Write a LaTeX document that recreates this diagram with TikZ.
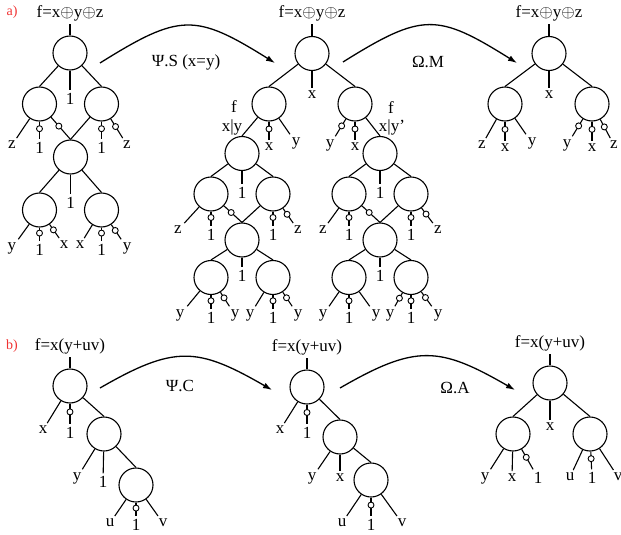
\documentclass[tikz,border=0pt]{standalone}
\usepackage{fontspec}
\setmainfont{Liberation Serif}
\usetikzlibrary{arrows.meta}
\definecolor{partred}{RGB}{240,50,50}

\tikzset{
  gate/.style={circle,draw,line width=1.1pt,minimum size=34pt,inner sep=0pt},
  leaf/.style={inner sep=2.8pt},
  neg/.style={circle,draw,fill=white,line width=.9pt,minimum size=6pt,inner sep=0pt,pos=.4},
  wire/.style={line width=1.1pt},
  trans/.style={line width=1.3pt,-{Latex[length=9pt,width=6pt]}},
  part/.style={text=partred,font=\fontsize{14}{16}\selectfont},
}

\begin{document}
\begin{tikzpicture}[x=1pt,y=-1pt,font=\fontsize{17}{20}\selectfont]
\useasboundingbox (0,0) rectangle (621,535);

\node[part] (pa) at (12,12) {a)};
\node (a1f) at (70,13) {f=x$\oplus$y$\oplus$z};
\node[gate] (a1) at (70,53) {};
\node[gate] (a1l) at (39.5,104) {};
\node[gate] (a1r) at (101.5,104) {};
\node[gate] (a1m) at (70.5,157) {};
\node[gate] (a1ml) at (39.5,210) {};
\node[gate] (a1mr) at (101.5,210) {};
\node[leaf] (a1M) at (70,99) {1};
\node[leaf] (a1lL) at (12,145) {z};
\node[leaf] (a1lM) at (39.5,148) {1};
\node[leaf] (a1rM) at (101.5,148) {1};
\node[leaf] (a1rR) at (127,145) {z};
\node[leaf] (a1mM) at (70.5,203) {1};
\node[leaf] (a1mlL) at (12,248) {y};
\node[leaf] (a1mlM) at (39.5,250) {1};
\node[leaf] (a1mlR) at (64,245) {x};
\node[leaf] (a1mrL) at (80,245) {x};
\node[leaf] (a1mrM) at (101.5,250) {1};
\node[leaf] (a1mrR) at (127,248) {y};
\draw[wire] (a1f) -- (a1);
\draw[wire] (a1) -- (a1l.north);
\draw[wire] (a1) -- (a1M);
\draw[wire] (a1) -- (a1r.north);
\draw[wire] (a1l) -- (a1lL);
\draw[wire] (a1l) -- node[neg]{} (a1lM);
\draw[wire] (a1l) -- node[neg]{} (a1m.north);
\draw[wire] (a1r) -- (a1m.north);
\draw[wire] (a1r) -- node[neg]{} (a1rM);
\draw[wire] (a1r) -- node[neg]{} (a1rR);
\draw[wire] (a1m) -- (a1ml.north);
\draw[wire] (a1m) -- (a1mM);
\draw[wire] (a1m) -- (a1mr.north);
\draw[wire] (a1ml) -- (a1mlL);
\draw[wire] (a1ml) -- node[neg]{} (a1mlM);
\draw[wire] (a1ml) -- node[neg]{} (a1mlR);
\draw[wire] (a1mr) -- (a1mrL);
\draw[wire] (a1mr) -- node[neg]{} (a1mrM);
\draw[wire] (a1mr) -- node[neg]{} (a1mrR);

\coordinate (t1s) at (100,63);
\coordinate (t1e) at (275,63);
\draw[trans] (t1s) to[out=32,in=148,looseness=1.38] (t1e);
\node (t1) at (186,62) {Ψ.S (x=y)};

\node (a2f) at (312,13) {f=x$\oplus$y$\oplus$z};
\node[gate] (a2) at (312,53.5) {};
\node[gate] (a2l) at (269,104) {};
\node[gate] (a2r) at (355,104) {};
\node[leaf] (a2M) at (312,95) {x};
\node[leaf] (a2lM) at (269,147) {x};
\node[leaf] (a2lR) at (296,143) {y};
\node[leaf] (a2rL) at (330,145) {y};
\node[leaf] (a2rM) at (355,147) {x};
\node[leaf] (s1f) at (234,107) {f};
\node[leaf] (s1c) at (232,127) {x|y};
\node[leaf] (s2f) at (391,108) {f};
\node[leaf] (s2c) at (392,127) {x|y'};
\draw[wire] (a2f) -- (a2);
\draw[wire] (a2) -- (a2l.north);
\draw[wire] (a2) -- (a2M);
\draw[wire] (a2) -- (a2r.north);
\draw[wire] (a2l) -- node[neg]{} (a2lM);
\draw[wire] (a2l) -- (a2lR);
\draw[wire] (a2r) -- node[neg]{} (a2rL);
\draw[wire] (a2r) -- node[neg]{} (a2rM);

\node[gate] (s1) at (242,153.5) {};
\node[gate] (s1l) at (211,194) {};
\node[gate] (s1r) at (273,194) {};
\node[gate] (s1m) at (242,240) {};
\node[gate] (s1ml) at (211,277.5) {};
\node[gate] (s1mr) at (273,277.5) {};
\node[leaf] (s1M) at (242,193) {1};
\node[leaf] (s1lL) at (178,230) {z};
\node[leaf] (s1lM) at (211,235) {1};
\node[leaf] (s1rM) at (273,235) {1};
\node[leaf] (s1rR) at (298,230) {z};
\node[leaf] (s1mM) at (242,276) {1};
\node[leaf] (s1mlL) at (180,315) {y};
\node[leaf] (s1mlM) at (211,318) {1};
\node[leaf] (s1mlR) at (235,315) {y};
\node[leaf] (s1mrL) at (250,315) {y};
\node[leaf] (s1mrM) at (273,318) {1};
\node[leaf] (s1mrR) at (298,315) {y};
\draw[wire] (a2l) -- (s1.north);
\draw[wire] (s1) -- (s1l.north);
\draw[wire] (s1) -- (s1M);
\draw[wire] (s1) -- (s1r.north);
\draw[wire] (s1l) -- (s1lL);
\draw[wire] (s1l) -- node[neg]{} (s1lM);
\draw[wire] (s1l) -- node[neg]{} (s1m.north);
\draw[wire] (s1r) -- (s1m.north);
\draw[wire] (s1r) -- node[neg]{} (s1rM);
\draw[wire] (s1r) -- node[neg]{} (s1rR);
\draw[wire] (s1m) -- (s1ml.north);
\draw[wire] (s1m) -- (s1mM);
\draw[wire] (s1m) -- (s1mr.north);
\draw[wire] (s1ml) -- (s1mlL);
\draw[wire] (s1ml) -- node[neg]{} (s1mlM);
\draw[wire] (s1ml) -- node[neg]{} (s1mlR);
\draw[wire] (s1mr) -- (s1mrL);
\draw[wire] (s1mr) -- node[neg]{} (s1mrM);
\draw[wire] (s1mr) -- node[neg]{} (s1mrR);

\node[gate] (s2) at (380,153.5) {};
\node[gate] (s2l) at (349,194) {};
\node[gate] (s2r) at (411,194) {};
\node[gate] (s2m) at (380,240) {};
\node[gate] (s2ml) at (349,277.5) {};
\node[gate] (s2mr) at (411,277.5) {};
\node[leaf] (s2M) at (380,193) {1};
\node[leaf] (s2lL) at (323,230) {z};
\node[leaf] (s2lM) at (349,235) {1};
\node[leaf] (s2rM) at (411,235) {1};
\node[leaf] (s2rR) at (438,230) {z};
\node[leaf] (s2mM) at (380,276) {1};
\node[leaf] (s2mlL) at (323,315) {y};
\node[leaf] (s2mlM) at (349,318) {1};
\node[leaf] (s2mlR) at (376,315) {y};
\node[leaf] (s2mrL) at (390,315) {y};
\node[leaf] (s2mrM) at (411,318) {1};
\node[leaf] (s2mrR) at (438,315) {y};
\draw[wire] (a2r) -- (s2.north);
\draw[wire] (s2) -- (s2l.north);
\draw[wire] (s2) -- (s2M);
\draw[wire] (s2) -- (s2r.north);
\draw[wire] (s2l) -- (s2lL);
\draw[wire] (s2l) -- node[neg]{} (s2lM);
\draw[wire] (s2l) -- node[neg]{} (s2m.north);
\draw[wire] (s2r) -- (s2m.north);
\draw[wire] (s2r) -- node[neg]{} (s2rM);
\draw[wire] (s2r) -- node[neg]{} (s2rR);
\draw[wire] (s2m) -- (s2ml.north);
\draw[wire] (s2m) -- (s2mM);
\draw[wire] (s2m) -- (s2mr.north);
\draw[wire] (s2ml) -- (s2mlL);
\draw[wire] (s2ml) -- node[neg]{} (s2mlM);
\draw[wire] (s2ml) -- (s2mlR);
\draw[wire] (s2mr) -- node[neg]{} (s2mrL);
\draw[wire] (s2mr) -- node[neg]{} (s2mrM);
\draw[wire] (s2mr) -- node[neg]{} (s2mrR);

\coordinate (t2s) at (343,62);
\coordinate (t2e) at (517,63);
\draw[trans] (t2s) to[out=32,in=148,looseness=1.38] (t2e);
\node (t2) at (428,62) {Ω.M};

\node (a3f) at (549,13) {f=x$\oplus$y$\oplus$z};
\node[gate] (a3) at (549,53.5) {};
\node[gate] (a3l) at (505,104) {};
\node[gate] (a3r) at (592,104) {};
\node[leaf] (a3M) at (549,95) {x};
\node[leaf] (a3lL) at (482,145) {z};
\node[leaf] (a3lM) at (505,148) {x};
\node[leaf] (a3lR) at (532,143) {y};
\node[leaf] (a3rL) at (567,145) {y};
\node[leaf] (a3rM) at (592,148) {x};
\node[leaf] (a3rR) at (614,145) {z};
\draw[wire] (a3f) -- (a3);
\draw[wire] (a3) -- (a3l.north);
\draw[wire] (a3) -- (a3M);
\draw[wire] (a3) -- (a3r.north);
\draw[wire] (a3l) -- (a3lL);
\draw[wire] (a3l) -- node[neg]{} (a3lM);
\draw[wire] (a3l) -- (a3lR);
\draw[wire] (a3r) -- node[neg]{} (a3rL);
\draw[wire] (a3r) -- node[neg]{} (a3rM);
\draw[wire] (a3r) -- node[neg]{} (a3rR);

\node[part] (pb) at (12,346) {b)};
\node (b1f) at (70,346) {f=x(y+uv)};
\node[gate] (b1) at (70,386) {};
\node[gate] (b1c) at (104,434) {};
\node[gate] (b1g) at (136,485) {};
\node[leaf] (b1L) at (43,430) {x};
\node[leaf] (b1M) at (70,433) {1};
\node[leaf] (b1cL) at (77,478) {y};
\node[leaf] (b1cM) at (103,482) {1};
\node[leaf] (b1gL) at (110,523) {u};
\node[leaf] (b1gM) at (136,525) {1};
\node[leaf] (b1gR) at (163,523) {v};
\draw[wire] (b1f) -- (b1);
\draw[wire] (b1) -- (b1L);
\draw[wire] (b1) -- node[neg]{} (b1M);
\draw[wire] (b1) -- (b1c.north);
\draw[wire] (b1c) -- (b1cL);
\draw[wire] (b1c) -- (b1cM);
\draw[wire] (b1c) -- (b1g.north);
\draw[wire] (b1g) -- (b1gL);
\draw[wire] (b1g) -- node[neg]{} (b1gM);
\draw[wire] (b1g) -- (b1gR);

\coordinate (u1s) at (100,388);
\coordinate (u1e) at (272,390);
\draw[trans] (u1s) to[out=30,in=150,looseness=1.28] (u1e);
\node (u1) at (180,386) {Ψ.C};

\node (b2f) at (307,347) {f=x(y+uv)};
\node[gate] (b2) at (307,387) {};
\node[gate] (b2c) at (340,437) {};
\node[gate] (b2g) at (371,480) {};
\node[leaf] (b2L) at (280,430) {x};
\node[leaf] (b2M) at (307,433) {1};
\node[leaf] (b2cL) at (312,478) {y};
\node[leaf] (b2cM) at (340,478) {x};
\node[leaf] (b2gL) at (342,523) {u};
\node[leaf] (b2gM) at (371,525) {1};
\node[leaf] (b2gR) at (402,523) {v};
\draw[wire] (b2f) -- (b2);
\draw[wire] (b2) -- (b2L);
\draw[wire] (b2) -- node[neg]{} (b2M);
\draw[wire] (b2) -- (b2c.north);
\draw[wire] (b2c) -- (b2cL);
\draw[wire] (b2c) -- (b2cM);
\draw[wire] (b2c) -- (b2g.north);
\draw[wire] (b2g) -- (b2gL);
\draw[wire] (b2g) -- node[neg]{} (b2gM);
\draw[wire] (b2g) -- (b2gR);

\coordinate (u2s) at (340,388);
\coordinate (u2e) at (515,390);
\draw[trans] (u2s) to[out=30,in=150,looseness=1.28] (u2e);
\node (u2) at (455,388) {Ω.A};

\node (b3f) at (550,343) {f=x(y+uv)};
\node[gate] (b3) at (550,383) {};
\node[gate] (b3l) at (513,434) {};
\node[gate] (b3r) at (590,434) {};
\node[leaf] (b3M) at (550,427) {x};
\node[leaf] (b3lL) at (485,478) {y};
\node[leaf] (b3lM) at (512,478) {x};
\node[leaf] (b3lR) at (538,478) {1};
\node[leaf] (b3rL) at (570,477) {u};
\node[leaf] (b3rM) at (592,478) {1};
\node[leaf] (b3rR) at (618,477) {v};
\draw[wire] (b3f) -- (b3);
\draw[wire] (b3) -- (b3l.north);
\draw[wire] (b3) -- (b3M);
\draw[wire] (b3) -- (b3r.north);
\draw[wire] (b3l) -- (b3lL);
\draw[wire] (b3l) -- (b3lM);
\draw[wire] (b3l) -- node[neg]{} (b3lR);
\draw[wire] (b3r) -- (b3rL);
\draw[wire] (b3r) -- node[neg]{} (b3rM);
\draw[wire] (b3r) -- (b3rR);
\end{tikzpicture}
\end{document}
